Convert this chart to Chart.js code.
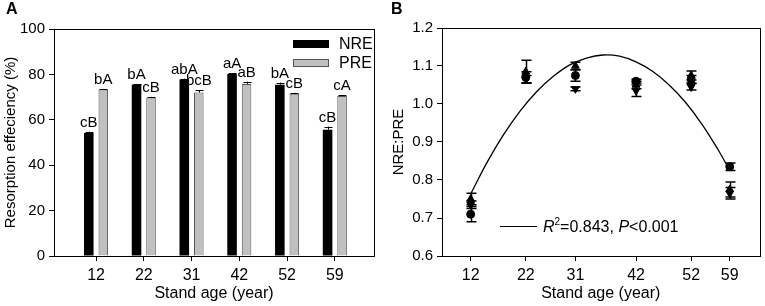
<!DOCTYPE html>
<html>
<head>
<meta charset="utf-8">
<script src="https://cdn.jsdelivr.net/npm/chart.js@4.4.0/dist/chart.umd.min.js"></script>
<style>
  html, body { margin: 0; padding: 0; background: #fff; }
  #wrap { position: relative; width: 765px; height: 306px; }
  .panel { position: absolute; top: 0; }
</style>
</head>
<body>
<div id="wrap">
  <div class="panel" style="left:0"><canvas id="chartA" width="383" height="306"></canvas></div>
  <div class="panel" style="left:383px"><canvas id="chartB" width="382" height="306"></canvas></div>
</div>
<script>
// panel A: resorption efficiency by stand age
const ageLabels = ['12', '22', '31', '42', '52', '59'];
const groupPos = [1, 2, 3, 4, 5, 6];
const nreValues = [54.2, 75.5, 77.8, 80.2, 75.4, 55.6];
const nreErrors = [0.6, 0.3, 0.3, 0.3, 1.0, 1.4];
const preValues = [73.3, 69.8, 72.0, 75.8, 71.5, 70.5];
const preErrors = [0.3, 0.3, 1.0, 1.0, 0.4, 0.3];
const nreLetters = ['cB', 'bA', 'abA', 'aA', 'bA', 'cB'];
const preLetters = ['bA', 'cB', 'bcB', 'aB', 'cB', 'cA'];
const yTicksA = [0, 20, 40, 60, 80, 100];

// panel B: NRE:PRE ratio, three replicate series per stand age
const standAges = [12, 22, 31, 42, 52, 59];
const ratioS1 = [0.71, 1.07, 1.075, 1.06, 1.065, 0.835];
const ratioS1Err = [0.02, 0.015, 0.015, 0.005, 0.01, 0.01];
const ratioS2 = [0.75, 1.085, 1.10, 1.05, 1.075, 0.775];
const ratioS2Err = [0.015, 0.03, 0.01, 0.01, 0.012, 0.02];
const ratioS3 = [0.735, 1.065, 1.04, 1.035, 1.045, 0.765];
const ratioS3Err = [0.01, 0.01, 0.005, 0.015, 0.008, 0.015];
// quadratic fit line
const fitAges = [12, 15, 18, 21, 24, 27, 30, 33, 36, 39, 42, 45, 48, 51, 54, 57, 59];
const fitRatio = [0.763, 0.847, 0.920, 0.982, 1.033, 1.073, 1.103, 1.121, 1.129, 1.126, 1.111, 1.086, 1.050, 1.004, 0.946, 0.877, 0.825];
const yTicksB = [0.6, 0.7, 0.8, 0.9, 1.0, 1.1, 1.2];

const FONT = "'Liberation Sans', Arial, sans-serif";
Chart.defaults.font.family = FONT;
Chart.defaults.font.size = 15;
Chart.defaults.color = '#000';
Chart.defaults.animation = false;

// box round the plot area plus the panel letter
const framePlugin = {
    id: 'frame',
    afterDraw(chart, args, opts) {
        const { ctx, chartArea: a } = chart;
        ctx.save();
        ctx.strokeStyle = '#000';
        ctx.lineWidth = 1;
        ctx.strokeRect(Math.round(a.left) + 0.5, Math.round(a.top) + 0.5,
            Math.round(a.right - a.left), Math.round(a.bottom - a.top));
        ctx.font = 'bold 16px ' + FONT;
        ctx.fillStyle = '#000';
        ctx.textBaseline = 'top';
        ctx.fillText(opts.letter, opts.lx, 2);
        ctx.restore();
    }
};

const barExtras = {
    id: 'barExtras',
    afterDatasetsDraw(chart) {
        const { ctx } = chart;
        const yScale = chart.scales.y;
        const errs = [nreErrors, preErrors];
        const vals = [nreValues, preValues];
        const letters = [nreLetters, preLetters];
        ctx.save();
        ctx.strokeStyle = '#000';
        ctx.fillStyle = '#000';
        ctx.lineWidth = 1;
        ctx.font = '15px ' + FONT;
        ctx.textAlign = 'center';
        ctx.textBaseline = 'alphabetic';
        for (let d = 0; d < 2; d++) {
            const meta = chart.getDatasetMeta(d);
            meta.data.forEach((bar, i) => {
                const top = yScale.getPixelForValue(vals[d][i] + errs[d][i]);
                const x = Math.round(bar.x) + 0.5;
                ctx.beginPath();
                ctx.moveTo(x, bar.y);
                ctx.lineTo(x, top);
                ctx.moveTo(x - 4, Math.round(top) + 0.5);
                ctx.lineTo(x + 4, Math.round(top) + 0.5);
                ctx.stroke();
                ctx.fillText(letters[d][i], bar.x, top - 5);
            });
        }
        // legend
        const lx = 293, items = [['NRE', '#000', '#000', 44], ['PRE', '#c0c0c0', '#555', 63]];
        ctx.textAlign = 'left';
        ctx.textBaseline = 'middle';
        ctx.font = '16px ' + FONT;
        items.forEach(([name, fill, stroke, y]) => {
            ctx.fillStyle = fill;
            ctx.fillRect(lx, y - 4, 36, 8);
            ctx.strokeStyle = stroke;
            ctx.strokeRect(lx + 0.5, y - 3.5, 35, 7);
            ctx.fillStyle = '#000';
            ctx.fillText(name, lx + 46, y + 1);
        });
        ctx.restore();
    }
};

new Chart(document.getElementById('chartA'), {
    type: 'bar',
    data: {
        datasets: [
            {
                label: 'NRE',
                data: groupPos.map((x, i) => ({ x: x, y: nreValues[i] })),
                backgroundColor: '#000',
                borderColor: '#000',
                borderWidth: 0
            },
            {
                label: 'PRE',
                data: groupPos.map((x, i) => ({ x: x, y: preValues[i] })),
                backgroundColor: '#c0c0c0',
                borderColor: '#555',
                borderWidth: 1,
                borderSkipped: 'bottom'
            }
        ]
    },
    options: {
        responsive: false,
        categoryPercentage: 0.607,
        barPercentage: 0.66,
        layout: { padding: { top: 29, right: 9, bottom: 0, left: 0 } },
        plugins: {
            legend: { display: false },
            tooltip: { enabled: false },
            frame: { letter: 'A', lx: 6 }
        },
        scales: {
            x: {
                type: 'linear',
                offset: false,
                min: 0.12,
                max: 6.82,
                afterBuildTicks: s => { s.ticks = groupPos.map(v => ({ value: v })); },
                afterFit: s => { s.height = 50; },
                ticks: {
                    callback: (v) => ageLabels[groupPos.indexOf(v)],
                    padding: 5,
                    maxRotation: 0,
                    font: { size: 16 }
                },
                grid: { offset: false, drawOnChartArea: false, tickLength: 5, color: '#000' },
                border: { display: false },
                title: { display: true, text: 'Stand age (year)', font: { size: 16 }, padding: { top: 0, bottom: 3 } }
            },
            y: {
                min: 0,
                max: 100,
                afterBuildTicks: s => { s.ticks = yTicksA.map(v => ({ value: v })); },
                afterFit: s => { s.width = 54; },
                ticks: { padding: 4 },
                grid: { drawOnChartArea: false, tickLength: 5, color: '#000' },
                border: { display: false },
                title: { display: true, text: 'Resorption effeciency (%)', font: { size: 15 }, padding: { top: 2, bottom: 0 } }
            }
        }
    },
    plugins: [framePlugin, barExtras]
});

const ratioExtras = {
    id: 'ratioExtras',
    afterDatasetsDraw(chart) {
        const { ctx } = chart;
        const yScale = chart.scales.y;
        const xScale = chart.scales.x;
        const sets = [[ratioS1, ratioS1Err], [ratioS2, ratioS2Err], [ratioS3, ratioS3Err]];
        ctx.save();
        ctx.strokeStyle = '#000';
        ctx.lineWidth = 1.5;
        sets.forEach(([vals, errs]) => {
            vals.forEach((v, i) => {
                const x = Math.round(xScale.getPixelForValue(standAges[i])) + 0.5;
                const t = yScale.getPixelForValue(v + errs[i]);
                const b = yScale.getPixelForValue(v - errs[i]);
                ctx.beginPath();
                ctx.moveTo(x, t); ctx.lineTo(x, b);
                ctx.moveTo(x - 5, t); ctx.lineTo(x + 5, t);
                ctx.moveTo(x - 5, b); ctx.lineTo(x + 5, b);
                ctx.stroke();
            });
        });
        // fit legend
        const ly = 226.5;
        ctx.lineWidth = 1;
        ctx.beginPath();
        ctx.moveTo(500 - 383, ly); ctx.lineTo(537 - 383, ly);
        ctx.stroke();
        ctx.fillStyle = '#000';
        ctx.textBaseline = 'alphabetic';
        let x = 543 - 383;
        const base = 232;
        const put = (txt, font, dy) => {
            ctx.font = font;
            ctx.fillText(txt, x, base + (dy || 0));
            x += ctx.measureText(txt).width;
        };
        put('R', 'italic 16px ' + FONT);
        put('2', '10px ' + FONT, -7);
        put('=0.843, ', '16px ' + FONT);
        put('P', 'italic 16px ' + FONT);
        put('<0.001', '16px ' + FONT);
        ctx.restore();
    }
};

const pts = arr => standAges.map((a, i) => ({ x: a, y: arr[i] }));

new Chart(document.getElementById('chartB'), {
    type: 'scatter',
    data: {
        datasets: [
            {
                label: 'fit',
                data: fitAges.map((a, i) => ({ x: a, y: fitRatio[i] })),
                showLine: true,
                tension: 0.4,
                borderColor: '#000',
                borderWidth: 1.3,
                pointRadius: 0
            },
            { label: 'S1', data: pts(ratioS1), pointStyle: 'circle', pointRadius: 4, backgroundColor: '#000', borderColor: '#000' },
            { label: 'S2', data: pts(ratioS2), pointStyle: 'triangle', pointRadius: 4.5, backgroundColor: '#000', borderColor: '#000' },
            { label: 'S3', data: pts(ratioS3), pointStyle: 'triangle', rotation: 180, pointRadius: 4.5, backgroundColor: '#000', borderColor: '#000' }
        ]
    },
    options: {
        responsive: false,
        layout: { padding: { top: 28, right: 2, bottom: 0, left: 5 } },
        plugins: {
            legend: { display: false },
            tooltip: { enabled: false },
            frame: { letter: 'B', lx: 8 }
        },
        scales: {
            x: {
                type: 'linear',
                min: 6.8,
                max: 64.4,
                afterBuildTicks: s => { s.ticks = standAges.map(v => ({ value: v })); },
                afterFit: s => { s.height = 50; },
                ticks: { padding: 5, maxRotation: 0, font: { size: 16 } },
                grid: { drawOnChartArea: false, tickLength: 5, color: '#000' },
                border: { display: false },
                title: { display: true, text: 'Stand age (year)', font: { size: 16 }, padding: { top: 0, bottom: 3 } }
            },
            y: {
                min: 0.6,
                max: 1.2,
                afterBuildTicks: s => { s.ticks = yTicksB.map(v => ({ value: v })); },
                afterFit: s => { s.width = 54; },
                ticks: { padding: 4, callback: v => v.toFixed(1) },
                grid: { drawOnChartArea: false, tickLength: 5, color: '#000' },
                border: { display: false },
                title: { display: true, text: 'NRE:PRE', font: { size: 15 }, padding: { top: 2, bottom: 0 } }
            }
        }
    },
    plugins: [framePlugin, ratioExtras]
});
</script>
</body>
</html>
